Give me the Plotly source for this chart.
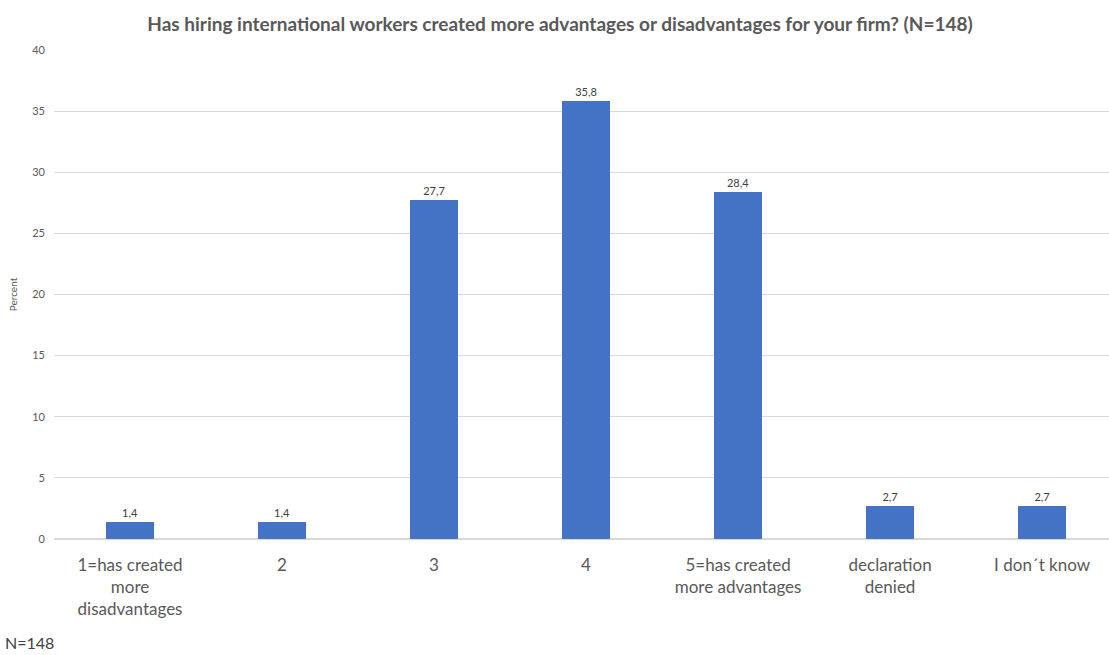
import plotly.graph_objects as go

categories = ["1=has created<br>more<br>disadvantages", "2", "3", "4",
              "5=has created<br>more advantages", "declaration<br>denied", "I don´t know"]
values = [1.4, 1.4, 27.7, 35.8, 28.4, 2.7, 2.7]
labels = ["1,4", "1,4", "27,7", "35,8", "28,4", "2,7", "2,7"]
y_ticks = [0, 5, 10, 15, 20, 25, 30, 35, 40]

fig = go.Figure(go.Bar(
    x=list(range(len(categories))), y=values,
    marker=dict(color="#4472C4", line=dict(width=0)),
    width=0.316,
    text=labels, textposition="outside",
    textfont=dict(size=11, color="#404040", family="Lato"),
    cliponaxis=False,
))

fig.update_layout(
    width=1109, height=655,
    margin=dict(l=54, r=0, t=50, b=116),
    paper_bgcolor="white", plot_bgcolor="white",
    font=dict(family="Lato", color="#595959"),
    title=dict(text="<b>Has hiring international workers created more advantages or disadvantages for your firm? (N=148)</b>",
               x=0.505, xanchor="center", y=0.963, yanchor="middle",
               font=dict(size=19, color="#595959", family="Lato")),
    showlegend=False,
    bargap=0,
)
fig.update_xaxes(
    range=[-0.5, 6.44],
    tickmode="array", tickvals=list(range(len(categories))), ticktext=categories,
    tickfont=dict(size=17, color="#595959", family="Lato"),
    showgrid=False, zeroline=False, showline=False, ticks="",
    ticklabelstandoff=14,
)
fig.update_yaxes(
    range=[0, 40], tickvals=y_ticks,
    tickfont=dict(size=11, color="#595959"),
    gridcolor="#d9d9d9", gridwidth=1, zeroline=True, zerolinecolor="#d9d9d9",
    title=dict(text="Percent", font=dict(size=10, color="#595959"), standoff=12),
    ticks="", ticklabelstandoff=8,
)
fig.add_annotation(text="N=148", xref="paper", yref="paper", x=-0.048, xanchor="left",
                   y=-0.212, yanchor="middle", showarrow=False,
                   font=dict(size=16, color="#404040", family="Lato"))

fig.write_html("out.html")
